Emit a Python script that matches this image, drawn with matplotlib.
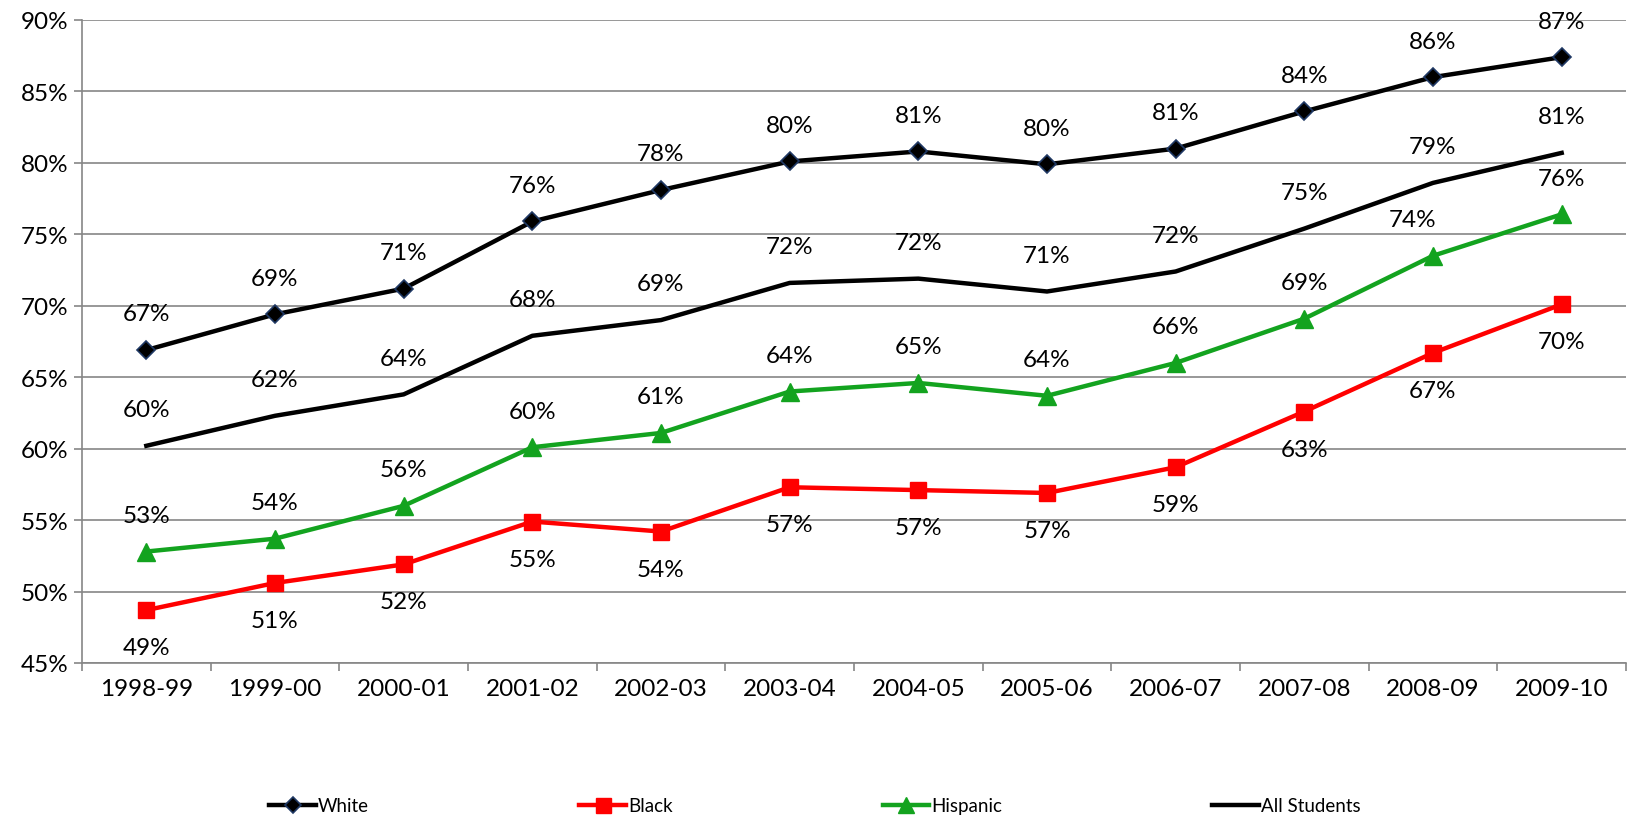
import matplotlib

matplotlib.use("Agg")

import matplotlib.pyplot as plt
from matplotlib.ticker import FuncFormatter, FixedLocator

plt.rcParams["font.family"] = ["Lato", "DejaVu Sans"]

years = ["1998-99", "1999-00", "2000-01", "2001-02", "2002-03", "2003-04",
         "2004-05", "2005-06", "2006-07", "2007-08", "2008-09", "2009-10"]
white = [66.9, 69.4, 71.2, 75.9, 78.1, 80.1, 80.8, 79.9, 81.0, 83.6, 86.0, 87.4]
black = [48.7, 50.6, 51.9, 54.9, 54.2, 57.3, 57.1, 56.9, 58.7, 62.6, 66.7, 70.1]
hispanic = [52.8, 53.7, 56.0, 60.1, 61.1, 64.0, 64.6, 63.7, 66.0, 69.1, 73.5, 76.4]
all_students = [60.2, 62.3, 63.8, 67.9, 69.0, 71.6, 71.9, 71.0, 72.4, 75.4, 78.6, 80.7]

W, H = 1630, 820
fig = plt.figure(figsize=(W / 100, H / 100), dpi=100)
ax = fig.add_axes([82 / W, 1 - 664 / H, (1626 - 82) / W, (664 - 21) / H])

x = list(range(len(years)))
ax.plot(x, white, color="black", lw=3.2, marker="D", ms=9,
        mfc="black", mec="#1f3864", mew=1.2, label="White", zorder=4)
ax.plot(x, black, color="#ff0000", lw=3.2, marker="s", ms=12,
        mfc="#ff0000", mec="#ff0000", label="Black", zorder=4)
ax.plot(x, hispanic, color="#13a31f", lw=3.2, marker="^", ms=13,
        mfc="#13a31f", mec="#13a31f", label="Hispanic", zorder=4)
ax.plot(x, all_students, color="black", lw=3.2, label="All Students", zorder=4)

fs = 17.5
for i in x:
    ax.annotate(f"{white[i]:.0f}%", (i, white[i]), xytext=(0, 26),
                textcoords="offset points", ha="center", va="center", fontsize=fs)
    ax.annotate(f"{all_students[i]:.0f}%", (i, all_students[i]), xytext=(0, 26),
                textcoords="offset points", ha="center", va="center", fontsize=fs)
    dx = -15 if i == 10 else 0
    ax.annotate(f"{hispanic[i]:.0f}%", (i, hispanic[i]), xytext=(dx, 26),
                textcoords="offset points", ha="center", va="center", fontsize=fs)
    ax.annotate(f"{black[i]:.0f}%", (i, black[i]), xytext=(0, -27),
                textcoords="offset points", ha="center", va="center", fontsize=fs)

ax.set_xlim(-0.5, len(years) - 0.5)
ax.set_ylim(45, 90)
ax.set_yticks(range(45, 91, 5))
ax.yaxis.set_major_formatter(FuncFormatter(lambda v, p: f"{v:.0f}%"))
ax.set_xticks(x)
ax.set_xticklabels(years)
ax.xaxis.set_minor_locator(FixedLocator([i - 0.5 for i in range(len(years) + 1)]))
ax.tick_params(axis="x", which="major", length=0, labelsize=fs, pad=11)
ax.tick_params(axis="x", which="minor", length=6, width=1.2, color="#868686")
ax.tick_params(axis="y", length=6, width=1.2, color="#868686", labelsize=fs, pad=4)

ax.grid(axis="y", color="#868686", lw=1.2)
ax.set_axisbelow(True)
for side in ("top", "right"):
    ax.spines[side].set_visible(False)
for side in ("left", "bottom"):
    ax.spines[side].set_color("#868686")
    ax.spines[side].set_linewidth(1.2)

fig.legend(loc="center", bbox_to_anchor=(0.5, 1 - 807 / H), ncol=4, frameon=False,
           fontsize=13.5, handlelength=2.5, handletextpad=0.1, columnspacing=11.2,
           markerscale=0.9)

fig.savefig("out.png", dpi=100)
